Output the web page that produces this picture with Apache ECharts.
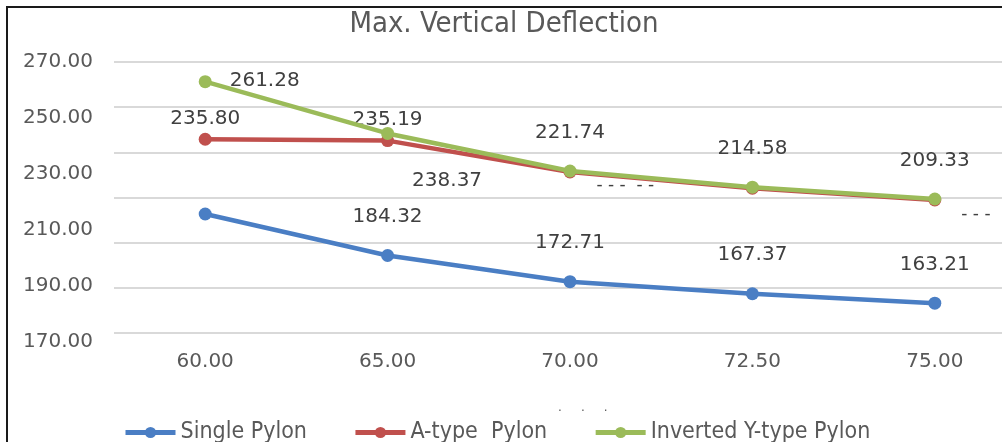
<!DOCTYPE html>
<html>
<head>
<meta charset="utf-8">
<script src="https://cdn.jsdelivr.net/npm/echarts@6/dist/echarts.min.js"></script>
<style>
html,body{margin:0;padding:0;background:#fff;}
#chart{width:1002px;height:442px;}
</style>
</head>
<body>
<div id="chart"></div>
<script>
// ---- data ----
var categories = ['60.00', '65.00', '70.00', '72.50', '75.00'];
var singlePylon = [202.7, 184.32, 172.71, 167.37, 163.21];
var aTypePylon = [235.80, 235.19, 221.3, 214.1, 208.9];
var invertedYPylon = [261.28, 238.37, 221.74, 214.58, 209.33];
var yTickLabels = [170, 190, 210, 230, 250, 270];
var seriesNames = ['Single Pylon', 'A-type  Pylon', 'Inverted Y-type Pylon'];

var FONT = 'DejaVu Sans';
var FONTC = 'DejaVu Sans Condensed';
var labelStyle = {show: true, position: 'top', distance: 22, color: '#404040', fontSize: 20, fontFamily: FONT,
  formatter: function (p) { return p.value.toFixed(2); }};

function buildData(values, labelOverrides) {
  return values.map(function (v, i) {
    var o = {value: v};
    if (labelOverrides && labelOverrides[i]) o.label = labelOverrides[i];
    return o;
  });
}

var blueData = buildData(singlePylon, {0: {show: false}});
var redData = buildData(aTypePylon, {
  0: {position: 'top', distance: 4},
  1: {position: 'top', distance: 4},
  2: {position: 'right', distance: 20, offset: [0, 14], formatter: '- - -  - -', fontSize: 17},
  3: {show: false},
  4: {position: 'right', distance: 20, offset: [0, 15], formatter: '- - -', fontSize: 17}
});
var greenData = buildData(invertedYPylon, {
  0: {position: 'right', distance: 18, offset: [0, -1]},
  1: {position: 'right', distance: 18, offset: [0, 47]}
});

var chart = echarts.init(document.getElementById('chart'), null, {renderer: 'canvas'});
chart.setOption({
  animation: false,
  backgroundColor: '#fff',
  title: {
    text: 'Max. Vertical Deflection', left: 499, top: 5, textAlign: 'center',
    textStyle: {fontFamily: FONTC, fontSize: 29, fontWeight: 'normal', color: '#595959'}
  },
  legend: {
    left: 118, top: 416, itemWidth: 50, itemHeight: 14, itemGap: 46,
    textStyle: {fontFamily: FONTC, fontSize: 23, color: '#595959'},
    lineStyle: {width: 5},
    data: seriesNames
  },
  grid: [
    {left: 114, width: 912, top: 62, bottom: 109, outerBoundsMode: 'none'},
    {left: 114, width: 912, top: 62, height: 280, outerBoundsMode: 'none'}
  ],
  xAxis: [
    {type: 'category', gridIndex: 0, data: categories, boundaryGap: true,
     axisLine: {show: false}, axisTick: {show: false},
     axisLabel: {margin: 19, color: '#595959', fontSize: 20, fontFamily: FONT}},
    {type: 'category', gridIndex: 1, data: categories, show: false}
  ],
  yAxis: [
    {type: 'value', gridIndex: 0, min: 150, max: 270, interval: 20,
     axisLine: {show: false}, axisTick: {show: false}, axisLabel: {show: false},
     splitLine: {lineStyle: {color: '#d9d9d9', width: 2}}},
    {type: 'value', gridIndex: 1, min: yTickLabels[0], max: yTickLabels[yTickLabels.length - 1],
     interval: yTickLabels[1] - yTickLabels[0],
     axisLine: {show: false}, axisTick: {show: false}, splitLine: {show: false},
     axisLabel: {margin: 21, color: '#595959', fontSize: 20, fontFamily: FONT,
       formatter: function (v) { return v.toFixed(2); }}}
  ],
  series: [
    {name: seriesNames[0], type: 'line', data: blueData, symbol: 'circle', symbolSize: 13,
     lineStyle: {width: 4.5, color: '#4a7ec4'}, itemStyle: {color: '#4a7ec4'}, label: labelStyle, z: 3},
    {name: seriesNames[1], type: 'line', data: redData, symbol: 'circle', symbolSize: 13,
     lineStyle: {width: 4.5, color: '#c0504d'}, itemStyle: {color: '#c0504d'}, label: labelStyle, z: 3},
    {name: seriesNames[2], type: 'line', data: greenData, symbol: 'circle', symbolSize: 13,
     lineStyle: {width: 4.5, color: '#9bbb59'}, itemStyle: {color: '#9bbb59'}, label: labelStyle, z: 4}
  ],
  graphic: [
    {type: 'rect', shape: {x: 7, y: 7, width: 1100, height: 500}, style: {fill: 'none', stroke: '#1a1a1a', lineWidth: 2}, z: 100},
    {type: 'text', left: 558, top: 402, style: {text: '.     .     .', fill: '#595959', font: '12px DejaVu Sans'}}
  ]
});
</script>
</body>
</html>
